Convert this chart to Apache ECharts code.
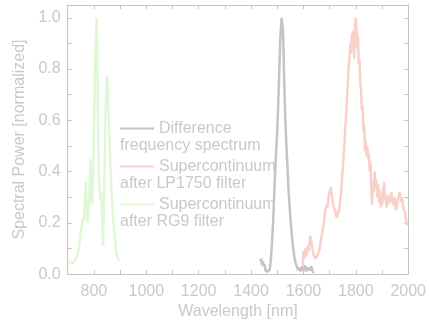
<!DOCTYPE html>
<html>
<head>
<meta charset="utf-8">
<script src="https://cdn.jsdelivr.net/npm/echarts@6/dist/echarts.min.js"></script>
<style>html,body{margin:0;padding:0;background:#fff}#c{width:429px;height:325px}</style>
</head>
<body>
<div id="c"></div>
<script>
// ---- data ----
var seriesNames = ['Difference frequency spectrum', 'Supercontinuum after LP1750 filter', 'Supercontinuum after RG9 filter'];
var legendLine1 = ['Difference', 'Supercontinuum', 'Supercontinuum'];
var legendLine2 = ['frequency spectrum', 'after LP1750 filter', 'after RG9 filter'];
var xTickLabels = [800, 1000, 1200, 1400, 1600, 1800, 2000];
var yTickLabels = [0.0, 0.2, 0.4, 0.6, 0.8, 1.0];

var dfgWavelength = [1436,1439,1442,1445,1448,1451,1455,1459,1463,1468,1472,1476,1480,1485,1490,1495,1500,1504,1508,1511,1514,1517,1520,1522,1525,1528,1531,1535,1539,1543,1547,1551,1555,1560,1565,1570,1575,1580,1585,1590,1595,1600,1605,1610,1615,1620,1625,1630,1635,1640];
var dfgPower = [0.05,0.06,0.035,0.05,0.03,0.04,0.015,0.02,0.008,0.01,0.02,0.06,0.12,0.22,0.35,0.46,0.56,0.67,0.8,0.9,0.96,1.0,1.0,0.95,0.82,0.7,0.6,0.5,0.42,0.33,0.27,0.21,0.16,0.11,0.07,0.045,0.03,0.015,0.025,0.01,0.03,0.015,0.035,0.01,0.025,0.03,0.015,0.03,0.01,0.005];

var lpWavelength = [1597,1600,1604,1608,1612,1616,1620,1626,1630,1634,1640,1646,1651,1656,1662,1668,1673,1678,1683,1688,1692,1696,1700,1704,1708,1712,1716,1720,1724,1728,1732,1736,1740,1744,1748,1752,1756,1760,1764,1768,1772,1776,1779,1782,1785,1788,1791,1794,1797,1800,1803,1806,1808,1811,1814,1817,1820,1823,1826,1829,1832,1835,1838,1841,1844,1847,1850,1853,1856,1859,1862,1865,1868,1872,1875,1878,1882,1886,1889,1892,1895,1898,1901,1905,1908,1911,1914,1917,1920,1923,1927,1931,1935,1939,1943,1947,1951,1955,1959,1963,1968,1972,1976,1980,1984,1988,1992,1996];
var lpPower = [0.03,0.09,0.06,0.1,0.07,0.11,0.09,0.15,0.13,0.1,0.07,0.06,0.065,0.08,0.1,0.14,0.17,0.2,0.25,0.27,0.26,0.3,0.32,0.34,0.31,0.28,0.26,0.25,0.23,0.22,0.24,0.25,0.28,0.32,0.38,0.44,0.5,0.57,0.64,0.72,0.8,0.85,0.9,0.86,0.94,0.9,0.95,0.84,0.96,1.0,0.95,0.88,0.93,0.82,0.84,0.74,0.72,0.64,0.66,0.56,0.58,0.48,0.52,0.46,0.5,0.45,0.47,0.4,0.44,0.33,0.27,0.36,0.32,0.4,0.33,0.37,0.3,0.35,0.28,0.33,0.26,0.3,0.27,0.33,0.36,0.29,0.31,0.26,0.3,0.27,0.31,0.28,0.32,0.3,0.27,0.3,0.26,0.25,0.29,0.3,0.32,0.28,0.3,0.27,0.25,0.24,0.21,0.19];

var rgWavelength = [700,710,720,728,735,740,745,750,755,759,762,765,769,772,775,778,781,784,787,790,793,797,801,805,810,813,816,819,823,826,829,832,835,839,843,848,852,855,858,862,867,872,877,882,887,892,898];
var rgPower = [0.05,0.045,0.045,0.05,0.07,0.09,0.12,0.16,0.2,0.22,0.21,0.27,0.36,0.25,0.2,0.23,0.28,0.34,0.45,0.3,0.27,0.4,0.6,0.85,1.0,0.85,0.55,0.38,0.31,0.29,0.32,0.2,0.11,0.3,0.55,0.75,0.77,0.68,0.56,0.45,0.33,0.24,0.17,0.12,0.08,0.06,0.055];

function zip(a, b) { return a.map(function (v, i) { return [v, b[i]]; }); }

var textColor = '#c9c9c9';
var axisColor = '#c4c4c4';
var colors = ['#c4c4c4', '#f9d1ca', '#e0f8d8'];
var font = 'Liberation Sans, Arial, sans-serif';

var chart = echarts.init(document.getElementById('c'), null, {renderer: 'canvas'});

var xBase = {
  type: 'value', min: 700, max: 2000, interval: 100,
  axisLine: {show: true, onZero: false, lineStyle: {color: axisColor, width: 1}},
  axisTick: {show: true, inside: true, length: 4, lineStyle: {color: axisColor}},
  splitLine: {show: false}
};
var yBase = {
  type: 'value', min: 0, max: 1.05, interval: 0.1,
  axisLine: {show: true, onZero: false, lineStyle: {color: axisColor, width: 1}},
  axisTick: {show: true, inside: true, length: 4, lineStyle: {color: axisColor}},
  splitLine: {show: false}
};

function isLabel(list, v) {
  for (var i = 0; i < list.length; i++) if (Math.abs(list[i] - v) < 1e-6) return true;
  return false;
}

var option = {
  backgroundColor: '#fff',
  animation: false,
  grid: {left: 67.7, right: 20, top: 5, bottom: 45.5, containLabel: false},
  xAxis: [
    Object.assign({}, xBase, {
      position: 'bottom',
      name: 'Wavelength [nm]', nameLocation: 'middle', nameGap: 26,
      nameTextStyle: {color: textColor, fontSize: 16, fontFamily: font},
      axisLabel: {color: textColor, fontSize: 16, fontFamily: font, margin: 9,
        formatter: function (v) { return isLabel(xTickLabels, v) ? String(v) : ''; }}
    }),
    Object.assign({}, xBase, {position: 'top', axisLabel: {show: false}})
  ],
  yAxis: [
    Object.assign({}, yBase, {
      position: 'left',
      name: 'Spectral Power [normalized]', nameLocation: 'middle', nameGap: 39,
      nameTextStyle: {color: textColor, fontSize: 16, fontFamily: font},
      axisLabel: {color: textColor, fontSize: 16, fontFamily: font, margin: 7, showMaxLabel: false,
        formatter: function (v) { return isLabel(yTickLabels, v) ? v.toFixed(1) : ''; }}
    }),
    Object.assign({}, yBase, {position: 'right', axisLabel: {show: false}})
  ],
  legend: {
    orient: 'vertical', left: 120, top: 119,
    icon: 'rect', itemWidth: 34, itemHeight: 2, itemGap: 19,
    padding: 0,
    data: seriesNames,
    textStyle: {color: textColor, fontSize: 16, fontFamily: font, lineHeight: 19},
    formatter: function (name) { return legendLine1[seriesNames.indexOf(name)]; }
  },
  graphic: legendLine2.map(function (t, i) {
    return {type: 'text', left: 120, top: 138 + i * 38,
      style: {text: t, fill: textColor, fontSize: 16, fontFamily: font}};
  }),
  series: [
    {name: seriesNames[0], type: 'line', showSymbol: false, data: zip(dfgWavelength, dfgPower),
      lineStyle: {color: colors[0], width: 2.5}, itemStyle: {color: colors[0]}},
    {name: seriesNames[1], type: 'line', showSymbol: false, data: zip(lpWavelength, lpPower),
      lineStyle: {color: colors[1], width: 2.5}, itemStyle: {color: colors[1]}},
    {name: seriesNames[2], type: 'line', showSymbol: false, data: zip(rgWavelength, rgPower),
      lineStyle: {color: colors[2], width: 2.5}, itemStyle: {color: colors[2]}}
  ]
};
chart.setOption(option);
</script>
</body>
</html>
